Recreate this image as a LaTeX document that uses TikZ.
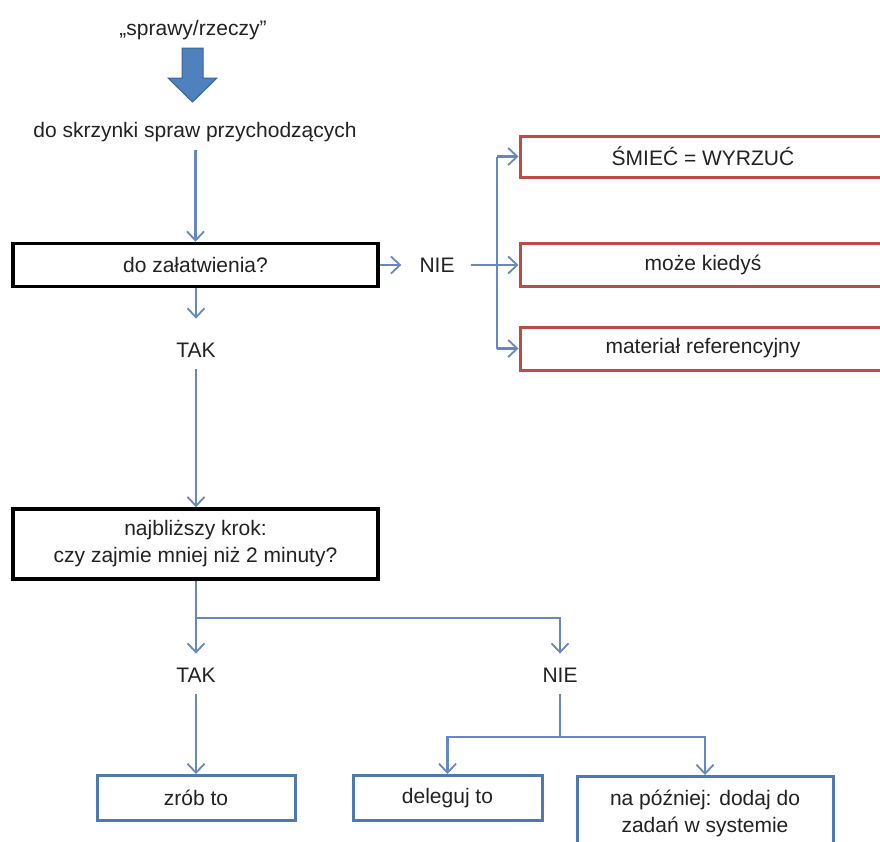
\documentclass[tikz,border=0pt]{standalone}
\usepackage{fontspec}
\setmainfont{Liberation Sans}
\usetikzlibrary{arrows.meta,calc}
\definecolor{conn}{HTML}{6688BE}
\definecolor{bbox}{HTML}{4F78B0}
\definecolor{rbox}{HTML}{BE4B48}
\definecolor{txt}{HTML}{222222}
\definecolor{bigarrow}{HTML}{4F81BD}
\definecolor{bigarrowline}{HTML}{3A6496}
\tikzset{
  lbl/.style={font=\fontsize{21}{27}\selectfont, text=txt, inner sep=2pt, align=center},
  blackbox/.style={lbl, draw=black, line width=3.5pt, minimum width=365pt},
  redbox/.style={lbl, draw=rbox, line width=3pt, minimum width=366pt},
  bluebox/.style={lbl, draw=bbox, line width=3pt},
  link/.style={draw=conn, line width=2.2pt},
  arr/.style={link, -{Straight Barb[length=9pt,width=17pt,line width=1.8pt]}},
}
\begin{document}
\begin{tikzpicture}[x=1pt,y=-1pt]
\useasboundingbox (0,0) rectangle (880,841);
\clip (0,0) rectangle (880,841);
\fill[white] (0,0) rectangle (880,841);

% top text and block arrow
\node[lbl] (things) at (193,30) {„sprawy/rzeczy”};
\draw[fill=bigarrow, draw=bigarrowline, line width=1pt]
  (182,48) -- (203,48) -- (203,78) -- (217,78) -- (192.5,102) -- (168,78) -- (182,78) -- cycle;
\node[lbl] (inbox) at (195,132) {do skrzynki spraw przychodzących};

% first decision
\node[blackbox, minimum height=43pt] (q1) at (195.5,265) {do załatwienia?};
\node[lbl] (nie1) at (437,265) {NIE};
\node[lbl] (tak1) at (196,350) {TAK};

% red boxes
\node[redbox, minimum height=41pt] (trash) at (703,156.5) {ŚMIEĆ = WYRZUĆ};
\node[redbox, minimum height=43pt] (maybe) at (703,265) {może kiedyś};
\node[redbox, minimum height=43pt] (ref) at (703,348.5) {materiał referencyjny};
\coordinate (j1) at (497,265);

% second decision
\node[blackbox, minimum height=70pt] (q2) at (195.5,544) {najbliższy krok:\\czy zajmie mniej niż 2 minuty?};
\node[lbl] (tak2) at (196,675) {TAK};
\node[lbl] (nie2) at (560,675) {NIE};
\coordinate (j2) at (196,618);
\coordinate (j3) at (560,737);

% bottom boxes
\node[bluebox, minimum width=198pt, minimum height=45pt] (doit) at (196,798) {zrób to};
\node[bluebox, minimum width=189pt, minimum height=45pt] (deleg) at (447.5,798) {deleguj to};
\node[bluebox, minimum width=256pt, minimum height=100pt, anchor=north] (later) at (705,775) {};
\node[lbl] (latertext) at (705,813) {na później: dodaj do\\zadań w systemie};

% connectors
\draw[arr] (inbox.south) ++(0,6) coordinate (inb) (inb -| q1.north) -- (q1.north);
\draw[arr] (q1.east) -- ([xshift=-16pt]nie1.west);
\draw[link] ([xshift=14pt]nie1.east) -- (j1);
\draw[arr] (j1) -- (maybe.west);
\draw[link] (j1 |- trash.west) -- (j1 |- ref.west);
\draw[arr] (j1 |- trash.west) -- (trash.west);
\draw[arr] (j1 |- ref.west) -- (ref.west);

\draw[arr] (q1.south -| tak1) -- ([yshift=22pt]tak1.north);
\draw[arr] ([yshift=-10pt]tak1.south) -- (q2.north -| tak1);

\draw[arr] (q2.south -| tak2) -- ([yshift=12pt]tak2.north);
\draw[arr] (j2) -- (j2 -| nie2) -- ([yshift=12pt]nie2.north);

\draw[arr] ([yshift=-10pt]tak2.south) -- (doit.north);
\draw[link] ([yshift=-10pt]nie2.south) -- (j3);
\draw[arr] (j3) -- (j3 -| deleg) -- (deleg.north);
\draw[arr] (j3) -- (j3 -| later) -- (later.north);
\end{tikzpicture}
\end{document}
